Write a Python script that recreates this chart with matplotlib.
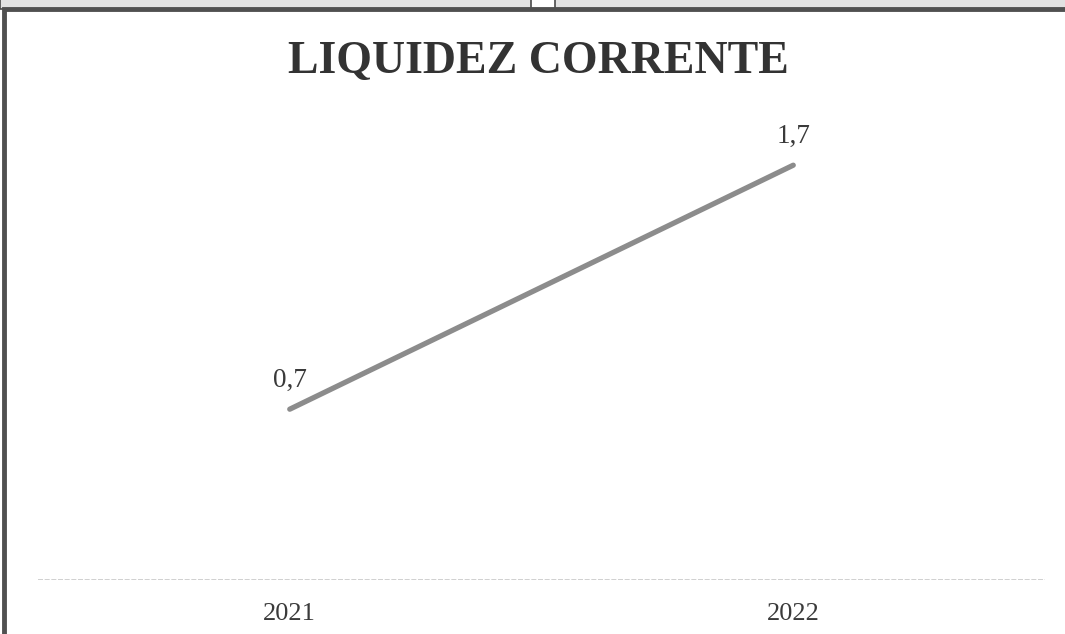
import matplotlib.pyplot as plt
from matplotlib.patches import Rectangle

years = ["2021", "2022"]
liquidez = [0.7, 1.7]
labels = ["0,7", "1,7"]
title = "LIQUIDEZ CORRENTE"

W, H = 1065, 634
plt.rcParams["font.family"] = ["Liberation Serif", "DejaVu Serif"]

fig = plt.figure(figsize=(W / 100, H / 100), dpi=100, facecolor="white")


def box(x0, y0, x1, y1, **kw):
    # rectangle given in pixel coords from the top-left corner
    fig.patches.append(Rectangle((x0 / W, 1 - y1 / H), (x1 - x0) / W, (y1 - y0) / H,
                                 transform=fig.transFigure, figure=fig, **kw))


# remains of the cells above (top strip of the scan)
box(0, -5, 531, 9, facecolor="#e2e2e2", edgecolor="#4a4a4a", linewidth=1.2)
box(555, -5, W + 5, 9, facecolor="#e2e2e2", edgecolor="#4a4a4a", linewidth=1.2)
# frame of the chart
box(4, 9, W + 10, H + 10, facecolor="none", edgecolor="#505050", linewidth=3.5)

ax = fig.add_axes([38 / W, 1 - 580 / H, (1045 - 38) / W, 488 / H])
ax.set_facecolor("none")
x = list(range(len(years)))
ax.plot(x, liquidez, color="#8c8c8c", linewidth=3.8, solid_capstyle="round")
ax.axhline(0, color="#c8c8c8", linewidth=1.2, linestyle=(0, (3, 1)))

for xi, yi, lab in zip(x, liquidez, labels):
    ax.annotate(lab, (xi, yi), xytext=(0, 16), textcoords="offset points",
                ha="center", va="baseline", fontsize=19.5, color="#3a3a3a")

for xi, yr in zip(x, years):
    ax.annotate(yr, (xi, 0), xycoords=("data", "axes fraction"), xytext=(0, -29),
                textcoords="offset points", ha="center", va="baseline",
                fontsize=19, color="#3a3a3a")

ax.set_xlim(-0.5, 1.5)
ax.set_ylim(0, 2)
ax.set_xticks([])
ax.set_yticks([])
for s in ax.spines.values():
    s.set_visible(False)

fig.text(538 / W, 1 - 73 / H, title, ha="center", va="baseline",
         fontsize=33, fontweight="bold", color="#333333")

fig.savefig("out.png", dpi=100, facecolor="white")
